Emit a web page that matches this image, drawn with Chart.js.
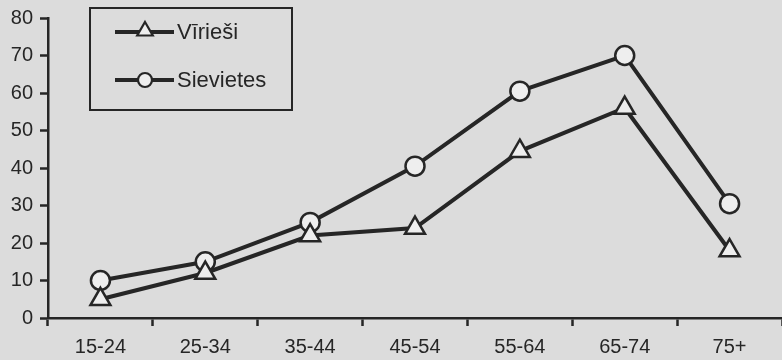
<!DOCTYPE html>
<html>
<head>
<meta charset="utf-8">
<script src="https://cdn.jsdelivr.net/npm/chart.js@4/dist/chart.umd.min.js"></script>
<style>
  html, body { margin: 0; padding: 0; background: #dcdcdc; }
  #wrap { width: 782px; height: 360px; position: relative; }
</style>
</head>
<body>
<div id="wrap"><canvas id="c" width="782" height="360"></canvas></div>
<script>
const categories = ['15-24', '25-34', '35-44', '45-54', '55-64', '65-74', '75+'];
const seriesNames = ['Vīrieši', 'Sievietes'];
const virieši = [5, 12, 22, 24, 44.5, 56, 18];
const sievietes = [10, 15, 25.5, 40.5, 60.5, 70, 30.5];
const yTicks = [0, 10, 20, 30, 40, 50, 60, 70, 80];

const INK = '#262626';
const MARK_FILL = '#eeeeee';
const FONT = "'Liberation Sans', Arial, sans-serif";

const bgPlugin = {
  id: 'bg',
  beforeDraw(chart) {
    const ctx = chart.ctx;
    ctx.save();
    ctx.fillStyle = '#dcdcdc';
    ctx.fillRect(0, 0, chart.width, chart.height);
    ctx.restore();
  }
};

const boxLegend = {
  id: 'boxLegend',
  afterDraw(chart) {
    const ctx = chart.ctx;
    ctx.save();
    ctx.strokeStyle = INK;
    ctx.lineWidth = 2;
    ctx.strokeRect(90, 8, 202, 102);
    const rows = [32, 80];
    chart.data.datasets.forEach((ds, i) => {
      const y = rows[i];
      ctx.strokeStyle = INK;
      ctx.lineWidth = 4;
      ctx.beginPath();
      ctx.moveTo(115, y);
      ctx.lineTo(174, y);
      ctx.stroke();
      ctx.fillStyle = MARK_FILL;
      ctx.strokeStyle = INK;
      ctx.lineWidth = 2.2;
      Chart.helpers.drawPoint(ctx, {
        pointStyle: ds.pointStyle,
        radius: ds.pointStyle === 'triangle' ? 9 : 7,
        rotation: 0,
        borderWidth: 2.2
      }, 145, ds.pointStyle === 'triangle' ? y - 1 : y);
      ctx.fillStyle = INK;
      ctx.font = '22px ' + FONT;
      ctx.textBaseline = 'middle';
      ctx.textAlign = 'left';
      ctx.fillText(ds.label, 177, y + 1);
    });
    ctx.restore();
  }
};

new Chart(document.getElementById('c'), {
  type: 'line',
  data: {
    labels: categories,
    datasets: [
      {
        label: seriesNames[0],
        data: virieši,
        borderColor: INK,
        borderWidth: 4,
        pointStyle: 'triangle',
        pointRadius: 11.5,
        pointBackgroundColor: MARK_FILL,
        pointBorderColor: INK,
        pointBorderWidth: 2.5,
        tension: 0
      },
      {
        label: seriesNames[1],
        data: sievietes,
        borderColor: INK,
        borderWidth: 4,
        pointStyle: 'circle',
        pointRadius: 9.5,
        pointBackgroundColor: MARK_FILL,
        pointBorderColor: INK,
        pointBorderWidth: 2.5,
        tension: 0
      }
    ]
  },
  options: {
    responsive: false,
    animation: false,
    events: [],
    layout: { autoPadding: false, padding: { top: 18, right: 0, left: 0, bottom: 0 } },
    plugins: {
      legend: { display: false },
      tooltip: { enabled: false }
    },
    scales: {
      x: {
        type: 'category',
        offset: true,
        border: { display: true, color: INK, width: 2.5 },
        grid: {
          offset: true,
          drawOnChartArea: false,
          drawTicks: true,
          tickLength: 8,
          tickWidth: 2.5,
          tickColor: INK
        },
        ticks: {
          color: INK,
          font: { family: FONT, size: 20 },
          padding: 9,
          maxRotation: 0,
          autoSkip: false
        },
        afterFit(scale) {
          scale.height = 42;
          scale.paddingLeft = 0;
          scale.paddingRight = 0;
        }
      },
      y: {
        min: 0,
        max: 80,
        afterBuildTicks(scale) { scale.ticks = yTicks.map(v => ({ value: v })); },
        border: { display: true, color: INK, width: 2.5 },
        grid: {
          drawOnChartArea: false,
          drawTicks: true,
          tickLength: 8,
          tickWidth: 2.5,
          tickColor: INK
        },
        ticks: {
          color: INK,
          font: { family: FONT, size: 20 },
          padding: 7
        },
        afterFit(scale) {
          scale.width = 48;
          scale.paddingTop = 0;
          scale.paddingBottom = 0;
        }
      }
    }
  },
  plugins: [bgPlugin, boxLegend]
});
</script>
</body>
</html>
